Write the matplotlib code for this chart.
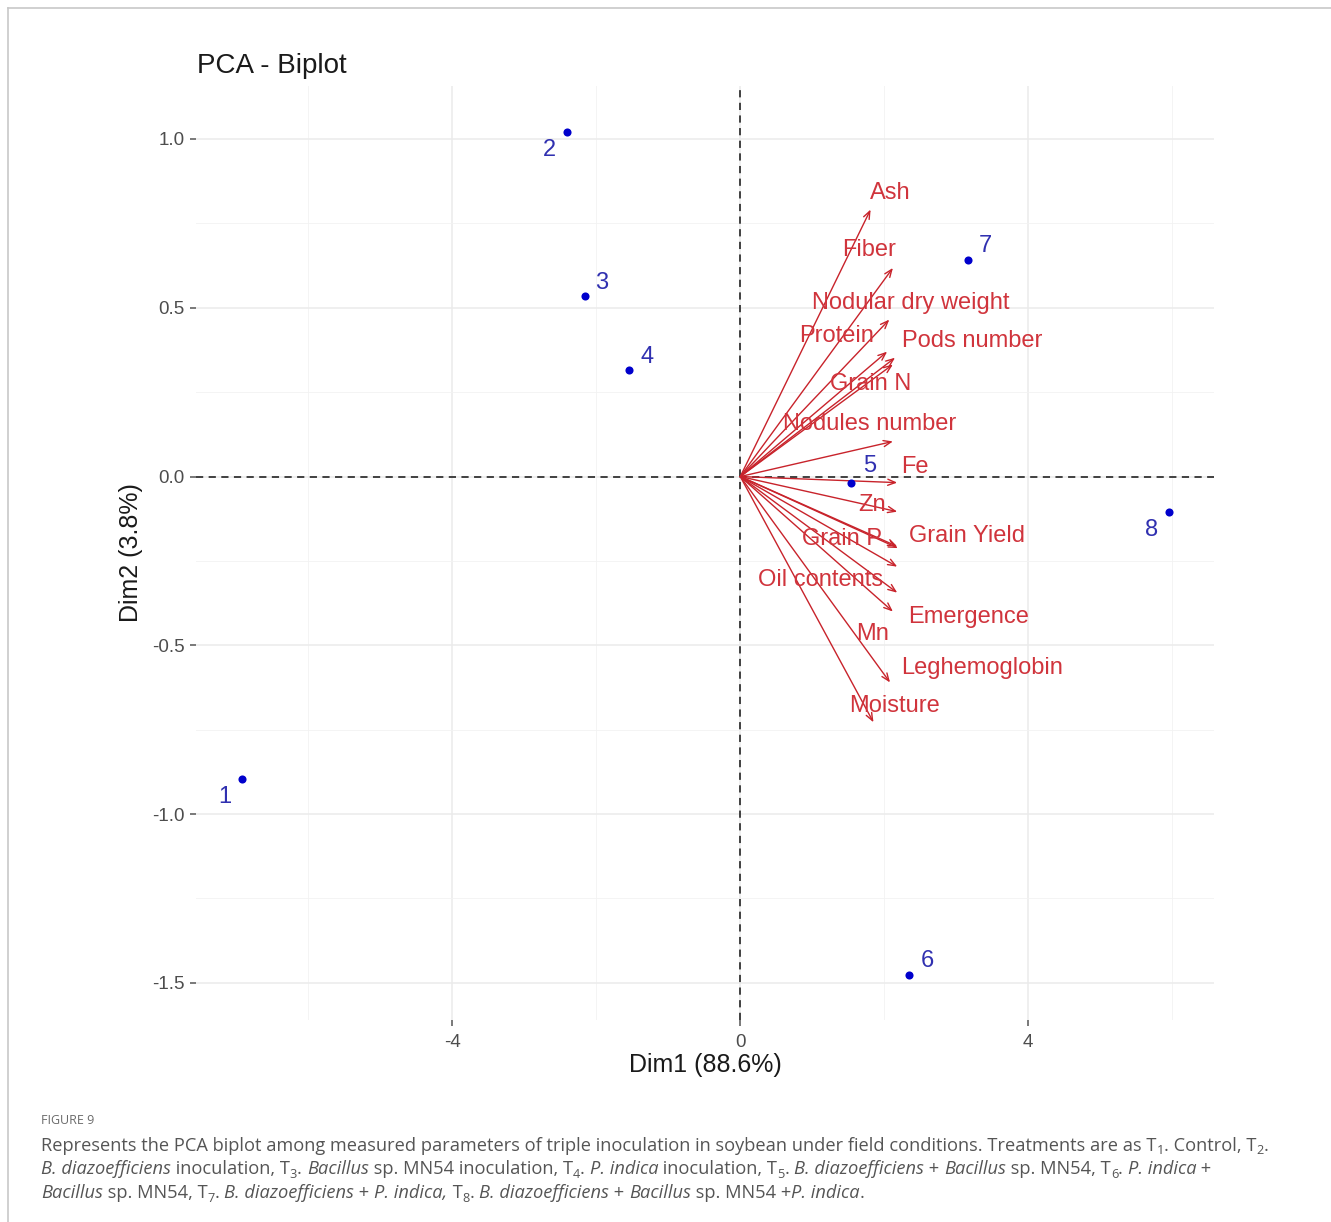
import matplotlib
matplotlib.use("Agg")
import matplotlib.pyplot as plt
from matplotlib.lines import Line2D

# ---- PCA scores of the eight treatments ----
ind_labels = ["1", "2", "3", "4", "5", "6", "7", "8"]
ind_dim1 = [-6.92, -2.40, -2.15, -1.54, 1.54, 2.35, 3.17, 5.96]
ind_dim2 = [-0.896, 1.021, 0.536, 0.317, -0.018, -1.476, 0.642, -0.104]

# ---- variable loadings (arrows) ----
var_names = ["Ash", "Fiber", "Nodular dry weight", "Protein", "Pods number",
             "Grain N", "Nodules number", "Fe", "Zn", "Grain P", "Grain Yield",
             "Oil contents", "Mn", "Emergence", "Leghemoglobin", "Moisture"]
var_dim1 = [1.81, 2.12, 2.07, 2.04, 2.15, 2.12, 2.12, 2.18, 2.18, 2.18, 2.19,
            2.18, 2.18, 2.12, 2.08, 1.85]
var_dim2 = [0.791, 0.618, 0.465, 0.370, 0.352, 0.332, 0.104, -0.018, -0.104,
            -0.207, -0.212, -0.267, -0.344, -0.400, -0.610, -0.728]

x_ticks = [-4, 0, 4]
x_tick_labels = ["-4", "0", "4"]
y_ticks = [-1.5, -1.0, -0.5, 0.0, 0.5, 1.0]
y_tick_labels = ["-1.5", "-1.0", "-0.5", "0.0", "0.5", "1.0"]

title = "PCA - Biplot"
x_title = "Dim1 (88.6%)"
y_title = "Dim2 (3.8%)"

# label placement (pixel offsets from the point / arrow tip), repel-style
ind_offsets = [(-17, -18), (-18, -18), (16, 13), (18, 13), (19, 17),
               (18, 14), (17, 14), (-18, -18)]
var_offsets = [(20, 17), (-24, 18), (21, 17), (-51, 16), (77, 17), (-22, -20),
               (-23, 17), (18, 16), (-25, 7), (-55, 7), (69, 12), (-77, -13),
               (-25, -41), (76, -5), (92, 14), (21, 16)]

W, H, DPI = 1331, 1222, 100
plt.rcParams["font.family"] = ["Liberation Sans", "DejaVu Sans"]
fig = plt.figure(figsize=(W / DPI, H / DPI), dpi=DPI)

# panel geometry in pixels
pl, pr, pt, pb = 196, 1214, 86, 1020
ax = fig.add_axes([pl / W, 1 - pb / H, (pr - pl) / W, (pb - pt) / H])
ax.set_xlim(-7.56, 6.58)
ax.set_ylim(-1.61, 1.157)
for s in ax.spines.values():
    s.set_visible(False)

ax.set_xticks(x_ticks)
ax.set_xticklabels(x_tick_labels)
ax.set_yticks(y_ticks)
ax.set_yticklabels(y_tick_labels)
ax.set_xticks([-6, -2, 2, 6], minor=True)
ax.set_yticks([-1.25, -0.75, -0.25, 0.25, 0.75], minor=True)
ax.tick_params(which="major", length=4, width=1.1, color="#555555",
               labelcolor="#4D4D4D", labelsize=13.5, pad=4)
ax.tick_params(axis="x", which="major", pad=6)
ax.tick_params(which="minor", length=0)
ax.grid(which="major", color="#EBEBEB", lw=1.1)
ax.grid(which="minor", color="#F2F2F2", lw=0.6)
ax.set_axisbelow(True)

# reference lines
ax.axhline(0, color="#333333", lw=1.3, ls=(0, (4, 3)), zorder=2)
ax.axvline(0, color="#333333", lw=1.3, ls=(0, (4, 3)), zorder=2)

# variable arrows
arrow_col = "#C8232B"
label_col = "#D0343C"
for name, vx, vy, off in zip(var_names, var_dim1, var_dim2, var_offsets):
    ax.annotate("", xy=(vx, vy), xytext=(0, 0),
                arrowprops=dict(arrowstyle="->,head_length=0.55,head_width=0.22",
                                color=arrow_col, lw=1.0, shrinkA=0, shrinkB=0),
                zorder=3)
    ax.annotate(name, xy=(vx, vy), xytext=off, textcoords="offset pixels",
                ha="center", va="center", fontsize=17, color=label_col, zorder=4)

# individuals
ax.scatter(ind_dim1, ind_dim2, s=34, color="#0000CC", zorder=5, linewidths=0)
for lab, ix, iy, off in zip(ind_labels, ind_dim1, ind_dim2, ind_offsets):
    ax.annotate(lab, xy=(ix, iy), xytext=off, textcoords="offset pixels",
                ha="center", va="center", fontsize=17, color="#3030B0", zorder=6)

# titles
fig.text(197 / W, 1 - 66 / H, title, fontsize=20, color="#1A1A1A",
         ha="left", va="center")
fig.text((pl + pr) / 2 / W, 1 - 1065 / H, x_title, fontsize=18,
         color="#1A1A1A", ha="center", va="center")
fig.text(131 / W, 1 - 553 / H, y_title, fontsize=18, color="#1A1A1A",
         ha="center", va="center", rotation=90)

# page frame
frame_col = "#C8C8C8"
fig.add_artist(Line2D([8 / W, 8 / W], [0, 1 - 8 / H], color=frame_col,
                      lw=1.2, transform=fig.transFigure))
fig.add_artist(Line2D([8 / W, 1], [1 - 8 / H, 1 - 8 / H], color=frame_col,
                      lw=1.2, transform=fig.transFigure))

# ---- caption ----
cap_font = ["Open Sans", "DejaVu Sans"]
cap_col = "#555555"
fig.text(41 / W, 1 - 1120 / H, "FIGURE 9", fontsize=9, color="#6A6A6A",
         family=cap_font, ha="left", va="center")

caption_lines = [
    [("Represents the PCA biplot among measured parameters of triple inoculation "
      "in soybean under field conditions. Treatments are as T", "n"), ("1", "s"),
     (". Control, T", "n"), ("2", "s"), (".", "n")],
    [("B. diazoefficiens", "i"), (" inoculation, T", "n"), ("3", "s"), (". ", "n"),
     ("Bacillus", "i"), (" sp. MN54 inoculation, T", "n"), ("4", "s"), (". ", "n"),
     ("P. indica", "i"), (" inoculation, T", "n"), ("5", "s"), (". ", "n"),
     ("B. diazoefficiens", "i"), (" + ", "n"), ("Bacillus", "i"),
     (" sp. MN54, T", "n"), ("6", "s"), (". ", "n"), ("P. indica", "i"),
     (" +", "n")],
    [("Bacillus", "i"), (" sp. MN54, T", "n"), ("7", "s"), (". ", "n"),
     ("B. diazoefficiens", "i"), (" + ", "n"), ("P. indica,", "i"), (" T", "n"),
     ("8", "s"), (". ", "n"), ("B. diazoefficiens", "i"), (" + ", "n"),
     ("Bacillus", "i"), (" sp. MN54 +", "n"), ("P. indica", "i"), (".", "n")],
]
line_y = [1146, 1169, 1193]

renderer = fig.canvas.get_renderer()


def draw_line(segs, x0, yc, size, draw=True):
    x = x0
    arts = []
    for txt, kind in segs:
        kw = dict(color=cap_col, family=cap_font, ha="left")
        if kind == "s":
            t = fig.text(x / W, 1 - (yc + 5) / H, txt, fontsize=size * 0.7,
                         va="center", **kw)
        else:
            t = fig.text(x / W, 1 - yc / H, txt, fontsize=size, va="center",
                         style="italic" if kind == "i" else "normal", **kw)
        bb = t.get_window_extent(renderer)
        x += bb.width
        arts.append(t)
    if not draw:
        for t in arts:
            t.remove()
    return x - x0


# size the caption so the first line spans the text column
cap_size = 12.0
for _ in range(3):
    w = draw_line(caption_lines[0], 41, line_y[0], cap_size, draw=False)
    cap_size *= 1229 / w
for segs, yc in zip(caption_lines, line_y):
    draw_line(segs, 41, yc, cap_size)

fig.savefig("out.png", dpi=DPI)
